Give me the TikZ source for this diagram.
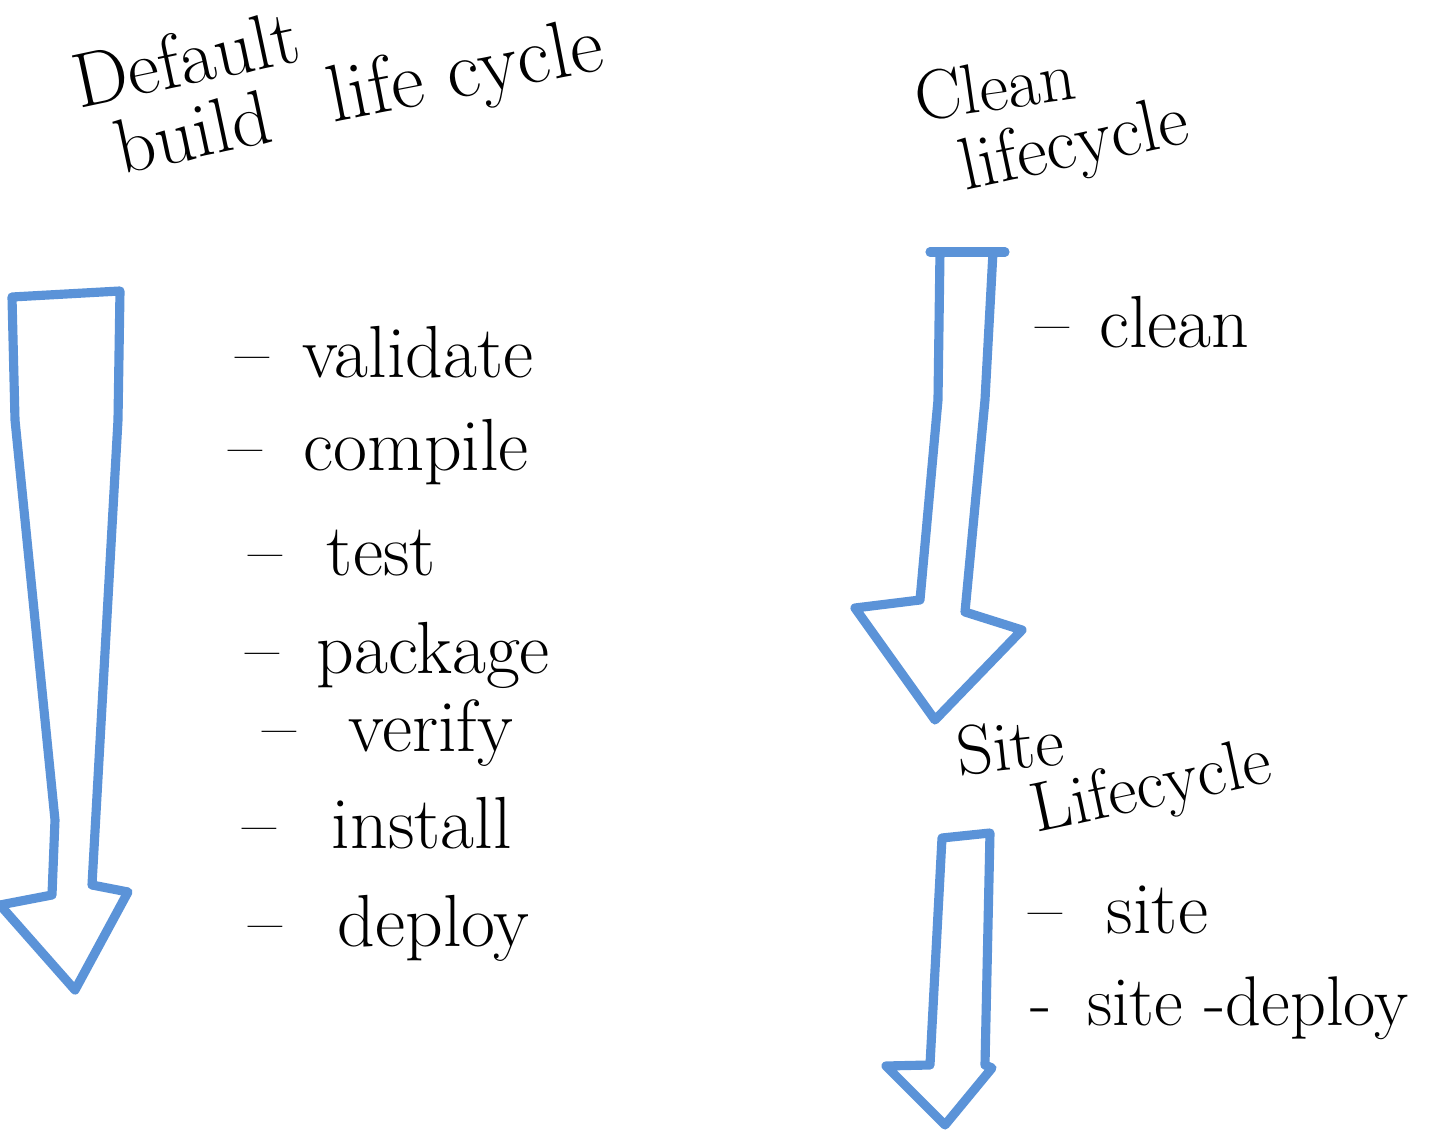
\documentclass[tikz,border=0pt]{standalone}
\usepackage{tikz}
\usetikzlibrary{positioning}

\begin{document}
\begin{tikzpicture}[x=0.01cm,y=-0.01cm,
  fatarrow/.style={draw=sketchblue,line width=2.6pt,line join=round,line cap=round},
  phase/.style={anchor=west,font=\fontsize{21}{24}\selectfont,inner sep=0pt},
  heading/.style={font=\fontsize{22}{26}\selectfont,inner sep=0pt}]
\definecolor{sketchblue}{HTML}{5B93D8}
\useasboundingbox (0,0) rectangle (1438,1146);

% default build lifecycle
\node[heading,rotate=12] (dflt) at (186,58) {Default};
\node[heading,rotate=12] (build) at (193,132) {build};
\node[heading,rotate=11,font=\fontsize{23}{27}\selectfont] (lcycle) at (466,76) {life cycle};

\draw[fatarrow] (12,297) -- (120,291) -- (118,420) -- (92,885) -- (128,892)
  -- (75,990) -- (0,905) -- (52,895) -- (55,820) -- (15,420) -- cycle;

\node[phase] (validate) at (235,352) {--\hspace{0.45em}validate};
\node[phase] (compile) at (228,452) {--\hspace{0.55em}compile};
\node[phase] (test) at (248,553) {--\hspace{0.6em}test};
\node[phase] (package) at (245,655) {--\hspace{0.5em}package};
\node[phase] (verify) at (262,733) {--\hspace{0.7em}verify};
\node[phase] (install) at (242,823) {--\hspace{0.75em}install};
\node[phase] (deploy) at (248,928) {--\hspace{0.75em}deploy};

% clean lifecycle
\node[heading,rotate=8,font=\fontsize{20}{24}\selectfont] (clean hd) at (995,86) {Clean};
\node[heading,rotate=12,font=\fontsize{21}{24}\selectfont] (clean lc) at (1075,148) {lifecycle};

\draw[fatarrow] (930,252) -- (1005,252);
\draw[fatarrow] (940,252) -- (993,252) -- (985,400) -- (965,612) -- (1022,630)
  -- (935,720) -- (855,608) -- (920,600) -- (938,400) -- cycle;

\node[phase] (clean) at (1035,322) {--\hspace{0.4em}clean};

% site lifecycle
\node[heading,rotate=6,font=\fontsize{20}{24}\selectfont] (site hd) at (1010,746) {Site};
\node[heading,rotate=12,font=\fontsize{20}{24}\selectfont] (site lc) at (1152,790) {Lifecycle};

\draw[fatarrow] (942,838) -- (990,833) -- (985,1065) -- (992,1068)
  -- (945,1125) -- (886,1066) -- (930,1065) -- cycle;

\node[phase] (site) at (1028,910) {--\hspace{0.6em}site};
\node[phase,font=\fontsize{20}{24}\selectfont] (site deploy) at (1030,1008) {-\hspace{0.5em}site -deploy};
\end{tikzpicture}
\end{document}
